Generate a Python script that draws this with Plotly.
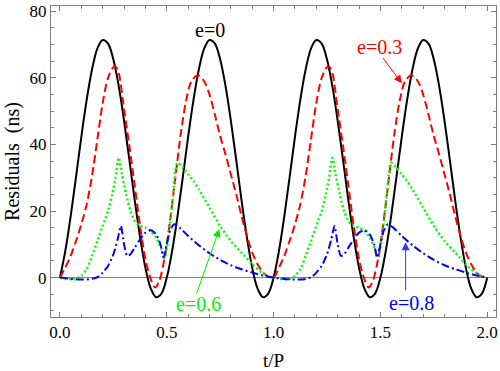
import plotly.graph_objects as go

# e = 0 (solid black)
t_e0 = [0.0, 0.025, 0.05, 0.075, 0.1, 0.125, 0.15, 0.175, 0.2, 0.225,
        0.25, 0.275, 0.3, 0.325, 0.35, 0.375, 0.4, 0.425, 0.45, 0.475,
        0.5, 0.525, 0.55, 0.575, 0.6, 0.625, 0.65, 0.675, 0.7, 0.725,
        0.75, 0.775, 0.8, 0.825, 0.85, 0.875, 0.9, 0.925, 0.95, 0.975,
        1.0, 1.025, 1.05, 1.075, 1.1, 1.125, 1.15, 1.175, 1.2, 1.225,
        1.25, 1.275, 1.3, 1.325, 1.35, 1.375, 1.4, 1.425, 1.45, 1.475,
        1.5, 1.525, 1.55, 1.575, 1.6, 1.625, 1.65, 1.675, 1.7, 1.725,
        1.75, 1.775, 1.8, 1.825, 1.85, 1.875, 1.9, 1.925, 1.95, 1.975, 2.0]
r_e0 = [0.0, 8.0, 18.4, 30.2, 42.3, 53.4, 62.5, 68.8, 71.4, 70.3,
        65.5, 57.5, 47.1, 35.3, 23.2, 12.1, 2.9, -3.3, -5.9, -4.8,
        0.0, 8.0, 18.4, 30.2, 42.3, 53.4, 62.5, 68.8, 71.4, 70.3,
        65.5, 57.5, 47.1, 35.3, 23.2, 12.1, 2.9, -3.3, -5.9, -4.8,
        0.0, 8.0, 18.4, 30.2, 42.3, 53.4, 62.5, 68.8, 71.4, 70.3,
        65.5, 57.5, 47.1, 35.3, 23.2, 12.1, 2.9, -3.3, -5.9, -4.8,
        0.0, 8.0, 18.4, 30.2, 42.3, 53.4, 62.5, 68.8, 71.4, 70.3,
        65.5, 57.5, 47.1, 35.3, 23.2, 12.1, 2.9, -3.3, -5.9, -4.8, 0.0]

# e = 0.3 (dashed red)
t_e03 = [0.0, 0.025, 0.05, 0.075, 0.1, 0.125, 0.15, 0.175, 0.2, 0.225, 0.25, 0.26,
         0.275, 0.3, 0.325, 0.35, 0.375, 0.4, 0.425, 0.445, 0.465, 0.49, 0.515,
         0.54, 0.565, 0.59, 0.615, 0.645, 0.675, 0.7, 0.725, 0.75, 0.775, 0.8,
         0.825, 0.85, 0.875, 0.9, 0.925, 0.95, 0.975,
         1.0, 1.025, 1.05, 1.075, 1.1, 1.125, 1.15, 1.175, 1.2, 1.225, 1.25, 1.26,
         1.275, 1.3, 1.325, 1.35, 1.375, 1.4, 1.425, 1.445, 1.465, 1.49, 1.515,
         1.54, 1.565, 1.59, 1.615, 1.645, 1.675, 1.7, 1.725, 1.75, 1.775, 1.8,
         1.825, 1.85, 1.875, 1.9, 1.925, 1.95, 1.975, 2.0]
r_e03 = [0.0, 3.0, 6.5, 11.0, 16.0, 22.0, 30.5, 41.5, 52.5, 60.0, 63.2, 63.4,
         61.5, 50.5, 39.5, 27.5, 15.5, 5.5, -0.5, -3.0, -1.0, 6.0, 17.0,
         30.0, 43.0, 53.0, 59.0, 60.8, 59.0, 55.0, 49.0, 42.5, 37.0, 31.0,
         25.0, 18.5, 12.5, 7.5, 4.0, 1.5, 0.3,
         0.0, 3.0, 6.5, 11.0, 16.0, 22.0, 30.5, 41.5, 52.5, 60.0, 63.2, 63.4,
         61.5, 50.5, 39.5, 27.5, 15.5, 5.5, -0.5, -3.0, -1.0, 6.0, 17.0,
         30.0, 43.0, 53.0, 59.0, 60.8, 59.0, 55.0, 49.0, 42.5, 37.0, 31.0,
         25.0, 18.5, 12.5, 7.5, 4.0, 1.5, 0.3, 0.0]

# e = 0.6 (dotted green)
t_e06 = [0.0, 0.025, 0.05, 0.075, 0.1, 0.125, 0.15, 0.175, 0.2, 0.225, 0.245, 0.26,
         0.275, 0.29, 0.31, 0.33, 0.35, 0.375, 0.4, 0.425, 0.45, 0.475, 0.49, 0.5,
         0.515, 0.53, 0.55, 0.575, 0.6, 0.625, 0.65, 0.7, 0.75, 0.8, 0.85, 0.9,
         0.95, 0.975,
         1.0, 1.025, 1.05, 1.075, 1.1, 1.125, 1.15, 1.175, 1.2, 1.225, 1.245, 1.26,
         1.275, 1.29, 1.31, 1.33, 1.35, 1.375, 1.4, 1.425, 1.45, 1.475, 1.49, 1.5,
         1.515, 1.53, 1.55, 1.575, 1.6, 1.625, 1.65, 1.7, 1.75, 1.8, 1.85, 1.9,
         1.95, 1.975, 2.0]
r_e06 = [0.0, -0.3, -0.5, -0.4, 0.5, 2.5, 6.5, 11.0, 15.5, 20.0, 25.0, 30.0,
         36.0, 31.0, 25.0, 20.0, 17.0, 15.5, 15.0, 14.0, 12.0, 8.5, 6.0, 9.0,
         16.0, 25.0, 34.5, 33.0, 31.0, 29.0, 26.5, 21.0, 15.5, 11.0, 7.5, 4.0,
         1.2, 0.3,
         0.0, -0.3, -0.5, -0.4, 0.5, 2.5, 6.5, 11.0, 15.5, 20.0, 25.0, 30.0,
         36.0, 31.0, 25.0, 20.0, 17.0, 15.5, 15.0, 14.0, 12.0, 8.5, 6.0, 9.0,
         16.0, 25.0, 34.5, 33.0, 31.0, 29.0, 26.5, 21.0, 15.5, 11.0, 7.5, 4.0,
         1.2, 0.3, 0.0]

# e = 0.8 (dash-dot blue)
t_e08 = [0.0, 0.05, 0.1, 0.15, 0.18, 0.2, 0.225, 0.25, 0.27, 0.285, 0.3, 0.315,
         0.33, 0.35, 0.375, 0.4, 0.425, 0.45, 0.47, 0.485, 0.5, 0.515, 0.535,
         0.56, 0.6, 0.65, 0.7, 0.75, 0.8, 0.85, 0.9, 0.95,
         1.0, 1.05, 1.1, 1.15, 1.18, 1.2, 1.225, 1.25, 1.27, 1.285, 1.3, 1.315,
         1.33, 1.35, 1.375, 1.4, 1.425, 1.45, 1.47, 1.485, 1.5, 1.515, 1.535,
         1.56, 1.6, 1.65, 1.7, 1.75, 1.8, 1.85, 1.9, 1.95, 2.0]
r_e08 = [0.0, -0.4, -0.6, -0.4, 0.3, 1.5, 3.5, 7.0, 11.5, 15.5, 10.0, 6.5,
         7.0, 9.0, 11.5, 13.5, 14.2, 13.0, 10.0, 6.0, 10.0, 14.0, 16.0,
         15.0, 12.5, 9.7, 7.3, 5.3, 3.7, 2.5, 1.5, 0.6,
         0.0, -0.4, -0.6, -0.4, 0.3, 1.5, 3.5, 7.0, 11.5, 15.5, 10.0, 6.5,
         7.0, 9.0, 11.5, 13.5, 14.2, 13.0, 10.0, 6.0, 10.0, 14.0, 16.0,
         15.0, 12.5, 9.7, 7.3, 5.3, 3.7, 2.5, 1.5, 0.6, 0.0]

serif = "Liberation Serif, Times New Roman, serif"

fig = go.Figure()
fig.add_trace(go.Scatter(x=t_e0, y=r_e0, mode="lines",
                         line=dict(color="black", width=2, shape="spline")))
fig.add_trace(go.Scatter(x=t_e03, y=r_e03, mode="lines",
                         line=dict(color="#ff0000", width=2, dash="8px,4px", shape="spline", smoothing=0.8)))
fig.add_trace(go.Scatter(x=t_e06, y=r_e06, mode="lines",
                         line=dict(color="#00ff00", width=2.5, dash="2px,2.5px", shape="spline", smoothing=0.7)))
fig.add_trace(go.Scatter(x=t_e08, y=r_e08, mode="lines",
                         line=dict(color="#0000ff", width=2, dash="8px,3px,2px,3px", shape="spline", smoothing=0.7)))

# labels
fig.add_annotation(x=0.704, y=74.4, text="e=0", showarrow=False,
                   font=dict(family=serif, size=20, color="black"))
fig.add_annotation(x=1.496, y=69.3, text="e=0.3", showarrow=False,
                   font=dict(family=serif, size=20, color="#ff0000"))
fig.add_annotation(x=0.648, y=-7.8, text="e=0.6", showarrow=False,
                   font=dict(family=serif, size=20, color="#00f000"))
fig.add_annotation(x=1.645, y=-7.5, text="e=0.8", showarrow=False,
                   font=dict(family=serif, size=20, color="#0000ff"))

# arrows
fig.add_annotation(x=1.6, y=58.4, ax=1.507, ay=66.4, axref="x", ayref="y",
                   text="", showarrow=True, arrowhead=2, arrowsize=1.6,
                   arrowwidth=1, arrowcolor="#ff0000")
fig.add_annotation(x=0.746, y=14.6, ax=0.637, ay=-5.3, axref="x", ayref="y",
                   text="", showarrow=True, arrowhead=2, arrowsize=1.6,
                   arrowwidth=1, arrowcolor="#00f000")
fig.add_annotation(x=1.618, y=10.6, ax=1.618, ay=-4.3, axref="x", ayref="y",
                   text="", showarrow=True, arrowhead=2, arrowsize=1.6,
                   arrowwidth=1, arrowcolor="#3333ff")

fig.update_xaxes(
    range=[-0.042, 2.041], tick0=0, dtick=0.5, tickformat=".1f",
    ticks="inside", ticklen=5, tickcolor="#808080",
    minor=dict(dtick=0.1, ticks="inside", ticklen=3, tickcolor="#808080"),
    showline=True, linecolor="#808080", linewidth=1, mirror="ticks",
    showgrid=False, zeroline=False,
    title=dict(text="t/P", font=dict(family=serif, size=19), standoff=12),
    tickfont=dict(family=serif, size=17, color="black"),
)
fig.update_yaxes(
    range=[-11.85, 81.6], tick0=0, dtick=20,
    ticks="inside", ticklen=5, tickcolor="#808080",
    minor=dict(dtick=5, ticks="inside", ticklen=3, tickcolor="#808080"),
    showline=True, linecolor="#808080", linewidth=1, mirror="ticks",
    showgrid=False, zeroline=True, zerolinecolor="#808080", zerolinewidth=1,
    title=dict(text="Residuals\u00a0 (ns)", font=dict(family=serif, size=20), standoff=4),
    tickfont=dict(family=serif, size=17, color="black"),
)
fig.update_layout(
    width=500, height=371,
    margin=dict(l=51, r=2, t=4, b=54),
    plot_bgcolor="white", paper_bgcolor="white",
    showlegend=False,
    font=dict(family=serif, color="black"),
)

# page body has a default 8px margin; remove it so the figure sits at the corner
fig.write_html("out.html", config={"displayModeBar": False},
               post_script="document.body.style.margin='0px';")
